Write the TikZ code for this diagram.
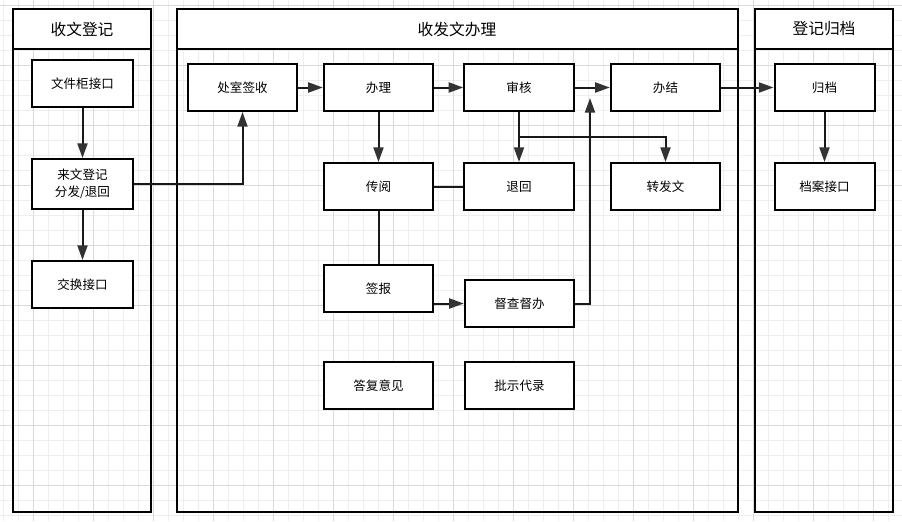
\documentclass[tikz,border=0pt]{standalone}
\usepackage{fontspec}
\newfontfamily\cjk{Noto Sans CJK SC}
\usepackage{tikz}
\usetikzlibrary{arrows.meta,calc}
\usepackage{xcolor}
\definecolor{gridminor}{RGB}{238,238,238}
\definecolor{gridmajor}{RGB}{218,218,218}
\definecolor{tipgray}{RGB}{51,51,51}
\tikzset{every picture/.style={line width=0.75pt}}
\tikzset{
  box/.style={draw, line width=1.5pt, fill=white, inner sep=0pt, minimum height=35.25pt,
    align=center, font=\cjk\fontsize{9.4}{12.75}\selectfont},
  lbox/.style={box, minimum width=75.75pt},
  mbox/.style={box, minimum width=82pt},
  rbox/.style={box, minimum width=75pt},
  lanehead/.style={inner sep=0pt, font=\cjk\fontsize{11.8}{14}\selectfont},
  lane/.style={line width=1.5pt},
  link/.style={line width=1.5pt, color=black!90},
  arr/.style={link, -{Triangle[length=11pt,width=7.5pt,fill=tipgray,color=tipgray]}},
}

\begin{document}
\begin{tikzpicture}[x=0.75pt,y=0.75pt,yscale=-1,xscale=1]
\useasboundingbox (0,0) rectangle (902,521);
\fill[white] (0,0) rectangle (902,521);

%Grid
\foreach \gx in {3,18,...,903} \draw[gridminor, line width=0.75pt] (\gx,0) -- (\gx,521);
\foreach \gy in {5,20,...,521} \draw[gridminor, line width=0.75pt] (0,\gy) -- (902,\gy);
\foreach \gx in {33,93,...,903} \draw[gridmajor, line width=0.75pt] (\gx,0) -- (\gx,521);
\foreach \gy in {5,65,...,521} \draw[gridmajor, line width=0.75pt] (0,\gy) -- (902,\gy);

%Lanes
\draw[lane] (13,9) rectangle (151,512);
\draw[lane, fill=white] (13,9) rectangle (151,48.5);
\draw[lane] (177,9) rectangle (737.5,512);
\draw[lane, fill=white] (177,9) rectangle (737.5,48.5);
\draw[lane] (755,9) rectangle (893,512);
\draw[lane, fill=white] (755,9) rectangle (893,48.5);

% Lane titles
\node[lanehead] (t1) at (82,29) {收文登记};
\node[lanehead] (t2) at (457,29) {收发文办理};
\node[lanehead] (t3) at (824,29) {登记归档};

% Boxes: receiving
\node[lbox] (cabinet) at (82.5,83.5) {文件柜接口};
\node[lbox, minimum height=37.5pt] (register) at (82.5,184) {来文登记\\分发/退回};
\node[lbox] (exchange) at (82.5,284.5) {交换接口};

% Boxes: handling
\node[mbox] (signin) at (242.5,87.5) {处室签收};
\node[mbox] (handle) at (378.5,87.5) {办理};
\node[mbox] (review) at (519,87.5) {审核};
\node[mbox] (finish) at (665.5,87.5) {办结};
\node[mbox] (circulate) at (378.5,186.5) {传阅};
\node[mbox] (sendback) at (519,186.5) {退回};
\node[mbox] (forward) at (665.5,186.5) {转发文};
\node[mbox] (report) at (378.5,288.5) {签报};
\node[mbox] (supervise) at (519.5,303.5) {督查督办};
\node[mbox] (reply) at (378.5,385.5) {答复意见};
\node[mbox] (instruct) at (519.5,385.5) {批示代录};

% Boxes: archiving
\node[rbox] (archive) at (824.5,87.5) {归档};
\node[rbox] (archport) at (824.5,186.5) {档案接口};

% Connectors
\coordinate (split) at ($(review.south)!0.5!(sendback.north)$);
\coordinate (rise) at (590,98);
\draw[arr] (cabinet) -- (register);
\draw[arr] (register) -- (exchange);
\draw[arr] (register.east) -| (signin.south);
\draw[arr] (signin) -- (handle);
\draw[arr] (handle) -- (review);
\draw[arr] (review) -- (finish);
\draw[arr] (finish) -- (archive);
\draw[arr] (archive) -- (archport);
\draw[arr] (handle) -- (circulate);
\draw[arr] (review) -- (sendback);
\draw[arr] (split) -| (forward.north);
\draw[link] (sendback) -- (circulate);
\draw[link] (circulate) -- (report);
\draw[arr] (report.east |- supervise.west) -- (supervise.west);
\draw[arr] (supervise.east) -| (rise);

\end{tikzpicture}
\end{document}
